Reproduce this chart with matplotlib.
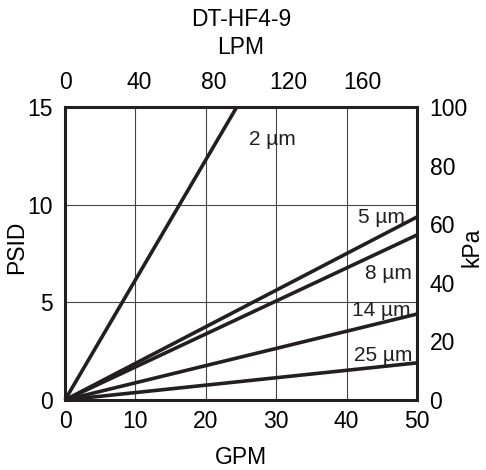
import matplotlib
matplotlib.use("Agg")
import matplotlib.pyplot as plt
import numpy as np

plt.rcParams['font.family'] = ['Liberation Sans', 'DejaVu Sans']

# pressure drop curves: (micron rating, end GPM, end PSID)
grades = ['2 µm', '5 µm', '8 µm', '14 µm', '25 µm']
end_gpm = [24.4, 50, 50, 50, 50]
end_psid = [15.0, 9.37, 8.45, 4.4, 1.9]

# label anchors (GPM, PSID)
label_x = [26.2, 48.3, 49.3, 49.1, 49.4]
label_y = [13.35, 9.35, 6.5, 4.6, 2.3]
label_ha = ['left', 'right', 'right', 'right', 'right']

gpm_ticks = [0, 10, 20, 30, 40, 50]
psid_ticks = [0, 5, 10, 15]
lpm_ticks = [0, 40, 80, 120, 160]
kpa_ticks = [0, 20, 40, 60, 80, 100]

LPM_PER_GPM = 3.785
FS = 16.5

fig = plt.figure(figsize=(4.86, 4.70), dpi=100)
ax = fig.add_axes([65 / 486, 1 - 400 / 470, 352 / 486, 293 / 470])

ink = '#231f20'
for g in [10, 20, 30, 40]:
    ax.axvline(g, color='#444444', lw=0.8, zorder=1)
for p in [5, 10]:
    ax.axhline(p, color='#444444', lw=0.8, zorder=1)

for name, gx, py, lx, ly, ha in zip(grades, end_gpm, end_psid, label_x, label_y, label_ha):
    ax.plot([0, gx], [0, py], color=ink, lw=2.6, solid_capstyle='butt', zorder=3, clip_on=False)
    ax.text(lx, ly, name, fontsize=15, ha=ha, va='center', color=ink, zorder=4)

ax.set_xlim(0, 50)
ax.set_ylim(0, 15)
ax.set_xticks(gpm_ticks)
ax.set_yticks(psid_ticks)
ax.tick_params(axis='x', length=0, labelsize=FS, pad=7)
ax.tick_params(axis='y', length=0, labelsize=FS, pad=9)
for s in ax.spines.values():
    s.set_linewidth(2.2)
    s.set_color(ink)

top = ax.secondary_xaxis('top', functions=(lambda g: g * LPM_PER_GPM, lambda l: l / LPM_PER_GPM))
top.set_xticks(lpm_ticks)
top.tick_params(length=0, labelsize=FS, pad=9)

right = ax.secondary_yaxis('right', functions=(lambda p: p * 100 / 15, lambda k: k * 15 / 100))
right.set_yticks(kpa_ticks)
right.tick_params(length=0, labelsize=FS, pad=9)

# axis titles placed in figure pixels
def px(x, y):
    return x / 486, 1 - y / 470

fig.text(*px(241, 20), 'DT-HF4-9', fontsize=FS, ha='center', va='center')
fig.text(*px(241, 47), 'LPM', fontsize=FS, ha='center', va='center')
fig.text(*px(241, 457), 'GPM', fontsize=FS, ha='center', va='center')
fig.text(*px(17, 247), 'PSID', fontsize=FS, ha='center', va='center', rotation=90)
fig.text(*px(472, 247), 'kPa', fontsize=FS, ha='center', va='center', rotation=90)

fig.savefig('out.png', dpi=100)
